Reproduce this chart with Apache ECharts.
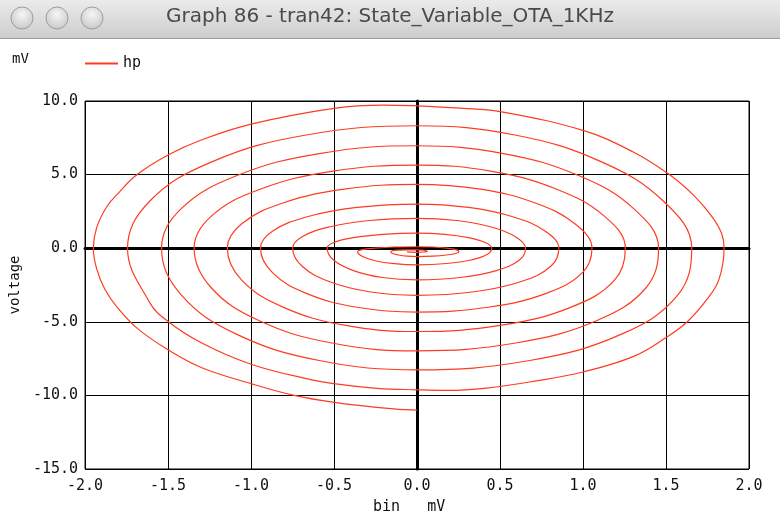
<!DOCTYPE html>
<html>
<head>
<meta charset="utf-8">
<script src="https://cdn.jsdelivr.net/npm/echarts@6/dist/echarts.min.js"></script>
<style>
  html, body { margin: 0; padding: 0; background: #ffffff; }
  #chart { width: 780px; height: 520px; }
</style>
</head>
<body>
<div id="chart"></div>
<script>
// ---- labels ----
const windowTitle = 'Graph 86 - tran42: State_Variable_OTA_1KHz';
const seriesName = 'hp';
const unitLabel = 'mV';
const xAxisTitle = 'bin   mV';
const yAxisTitle = 'voltage';

// ---- axis ranges ----
const xRange = [-2.0, 2.0, 0.5];   // min, max, step
const yRange = [-15.0, 10.0, 5.0];

// ---- trace: [bin (mV), hp (mV)], one array per turn of the spiral ----
const entry = [
  [0, -11.0], [-0.14, -10.92], [-0.5, -10.47], [-0.74, -10.0], [-1.0, -9.2],
  [-1.3, -8.1], [-1.5, -6.9], [-1.68, -5.5], [-1.80, -4.1], [-1.88, -2.8],
  [-1.93, -1.4], [-1.95, 0]
];
const turn1 = [
  [-1.93, 1.4], [-1.87, 2.8], [-1.80, 3.73], [-1.69, 4.97], [-1.50, 6.33],
  [-1.30, 7.35], [-1.0, 8.43], [-0.5, 9.5], [-0.2, 9.72], [0.28, 9.5],
  [0.5, 9.28], [1.0, 8.0], [1.30, 6.55], [1.52, 5.0], [1.67, 3.55],
  [1.78, 2.1], [1.835, 1.0], [1.85, 0],
  [1.818, -2.15], [1.745, -3.5], [1.63, -4.98], [1.505, -6.04], [1.305, -7.35],
  [1.0, -8.41], [0.70, -9.05], [0.42, -9.5], [0.18, -9.66], [0, -9.62],
  [-0.24, -9.52], [-0.5, -9.2], [-0.64, -8.93], [-1.0, -7.88], [-1.3, -6.42],
  [-1.5, -4.98], [-1.611, -3.68], [-1.744, 0]
];
const turn2 = [
  [-1.611, 3.19], [-1.233, 5.88], [-0.668, 7.69], [0, 8.32], [0.590, 7.69],
  [1.108, 5.88], [1.485, 3.19], [1.655, 0],
  [1.573, -3.16], [1.232, -5.84], [0.678, -7.63], [0, -8.26], [-0.589, -7.63],
  [-1.088, -5.84], [-1.422, -3.16], [-1.539, 0]
];
const turn3 = [
  [-1.422, 2.67], [-1.088, 4.92], [-0.589, 6.43], [0, 6.96], [0.520, 6.43],
  [0.977, 4.92], [1.307, 2.67], [1.455, 0],
  [1.381, -2.67], [1.081, -4.93], [0.594, -6.44], [0, -6.97], [-0.514, -6.44],
  [-0.950, -4.93], [-1.241, -2.67], [-1.343, 0]
];
const turn4 = [
  [-1.241, 2.16], [-0.950, 3.99], [-0.514, 5.22], [0, 5.65], [0.451, 5.22],
  [0.845, 3.99], [1.130, 2.16], [1.255, 0],
  [1.190, -2.17], [0.929, -4.00], [0.511, -5.23], [0, -5.66], [-0.438, -5.23],
  [-0.808, -4.00], [-1.056, -2.17], [-1.143, 0]
];
const turn5 = [
  [-1.056, 1.66], [-0.808, 3.07], [-0.438, 4.01], [0, 4.34], [0.381, 4.01],
  [0.712, 3.07], [0.951, 1.66], [1.054, 0],
  [0.997, -1.66], [0.778, -3.07], [0.427, -4.01], [0, -4.34], [-0.361, -4.01],
  [-0.667, -3.07], [-0.871, -1.66], [-0.943, 0]
];
const turn6 = [
  [-0.871, 1.15], [-0.667, 2.12], [-0.361, 2.77], [0, 3.0], [0.311, 2.77],
  [0.582, 2.12], [0.773, 1.15], [0.854, 0],
  [0.806, -1.23], [0.628, -2.26], [0.344, -2.96], [0, -3.2], [-0.287, -2.96],
  [-0.530, -2.26], [-0.692, -1.23], [-0.749, 0]
];
const turn7 = [
  [-0.692, 0.78], [-0.530, 1.44], [-0.287, 1.88], [0, 2.03], [0.239, 1.88],
  [0.447, 1.44], [0.593, 0.78], [0.654, 0],
  [0.615, -0.82], [0.478, -1.52], [0.261, -1.99], [0, -2.15], [-0.208, -1.99],
  [-0.383, -1.52], [-0.501, -0.82], [-0.542, 0]
];
const turn8 = [
  [-0.501, 0.39], [-0.383, 0.72], [-0.208, 0.94], [0, 1.02], [0.167, 0.94],
  [0.310, 0.72], [0.411, 0.39], [0.45, 0],
  [0.422, -0.43], [0.326, -0.80], [0.178, -1.04], [0, -1.13], [-0.137, -1.05],
  [-0.253, -0.85], [-0.331, -0.55], [-0.358, -0.23]
];
const turn9 = [
  [-0.331, -0.10], [-0.253, 0.0], [-0.137, 0.08], [0, 0.1], [0.096, 0.08],
  [0.178, 0.0], [0.233, -0.10], [0.252, -0.23],
  [0.233, -0.36], [0.178, -0.46], [0.096, -0.54], [0, -0.57], [-0.06, -0.54],
  [-0.112, -0.46], [-0.146, -0.36], [-0.158, -0.25]
];
const turn10 = [
  [-0.146, -0.17], [-0.11, -0.13], [-0.06, -0.11], [0, -0.11], [0.04, -0.14],
  [0.063, -0.2], [0.04, -0.26], [0, -0.28], [-0.04, -0.27], [-0.06, -0.23]
];

const trace = [].concat(entry, turn1, turn2, turn3, turn4, turn5,
                        turn6, turn7, turn8, turn9, turn10);

// ---- styling ----
const MONO = '"DejaVu Sans Mono", monospace';
const TRACE_COLOR = '#ff3b20';
const INK = '#000000';
const fmt = v => v.toFixed(1);

const chart = echarts.init(document.getElementById('chart'), null, { renderer: 'canvas' });

chart.setOption({
  animation: false,
  backgroundColor: '#ffffff',
  grid: {
    left: 83, top: 101, width: 666, height: 368,
    show: true, borderColor: INK, borderWidth: 1, backgroundColor: 'transparent'
  },
  legend: {
    data: [seriesName],
    left: 80, top: 51,
    icon: 'rect', itemWidth: 33, itemHeight: 2,
    textStyle: { fontFamily: MONO, fontSize: 15, color: '#111' }
  },
  xAxis: [
    {
      type: 'value', min: xRange[0], max: xRange[1], interval: xRange[2],
      position: 'bottom',
      axisLine: { show: false }, axisTick: { show: false },
      splitLine: { show: true, lineStyle: { color: INK, width: 1 } },
      axisLabel: { formatter: fmt, fontFamily: MONO, fontSize: 15, color: '#111', margin: 10 }
    },
    {
      type: 'value', min: xRange[0], max: xRange[1], interval: xRange[2],
      position: 'bottom',
      axisLine: { show: true, onZero: true, lineStyle: { color: INK, width: 3 } },
      axisTick: { show: false }, axisLabel: { show: false }, splitLine: { show: false }
    }
  ],
  yAxis: [
    {
      type: 'value', min: yRange[0], max: yRange[1], interval: yRange[2],
      position: 'left',
      axisLine: { show: false }, axisTick: { show: false },
      splitLine: { show: true, lineStyle: { color: INK, width: 1 } },
      axisLabel: { formatter: fmt, fontFamily: MONO, fontSize: 15, color: '#111', margin: 7 },
      name: yAxisTitle, nameLocation: 'middle', nameGap: 59, nameRotate: 90,
      nameTextStyle: { fontFamily: MONO, fontSize: 14, color: '#111' }
    },
    {
      type: 'value', min: yRange[0], max: yRange[1], interval: yRange[2],
      position: 'left',
      axisLine: { show: true, onZero: true, lineStyle: { color: INK, width: 3 } },
      axisTick: { show: false }, axisLabel: { show: false }, splitLine: { show: false }
    }
  ],
  series: [{
    name: seriesName,
    type: 'line',
    xAxisIndex: 0, yAxisIndex: 0,
    data: trace,
    showSymbol: false, symbol: 'none',
    smooth: 0.4,
    lineStyle: { color: TRACE_COLOR, width: 1.2 },
    itemStyle: { color: TRACE_COLOR },
    z: 5
  }],
  graphic: [
    // window title bar
    {
      type: 'rect', left: 0, top: 0, z: 0,
      shape: { width: 780, height: 38 },
      style: {
        fill: new echarts.graphic.LinearGradient(0, 0, 0, 1, [
          { offset: 0, color: '#ebebeb' }, { offset: 1, color: '#cdcdcd' }
        ])
      }
    },
    { type: 'line', z: 1, shape: { x1: 0, y1: 38.5, x2: 780, y2: 38.5 }, style: { stroke: '#9a9a9a', lineWidth: 1 } },
    ...[22, 57, 92].map(cx => ({
      type: 'circle', z: 1,
      shape: { cx: cx, cy: 18, r: 11 },
      style: {
        fill: new echarts.graphic.RadialGradient(0.5, 0.35, 0.7, [
          { offset: 0, color: '#f6f6f6' }, { offset: 1, color: '#c4c4c4' }
        ]),
        stroke: '#9c9c9c', lineWidth: 1
      }
    })),
    {
      type: 'text', z: 1, left: 'center', top: 7,
      style: { text: windowTitle, font: '20px "DejaVu Sans", sans-serif', fill: '#4a4a4a' }
    },
    // unit label and x axis title
    {
      type: 'text', z: 1, left: 12, top: 52,
      style: { text: unitLabel, font: '14px ' + MONO, fill: '#111' }
    },
    {
      type: 'text', z: 1, left: 373, top: 500,
      style: { text: xAxisTitle, font: '15px ' + MONO, fill: '#111' }
    }
  ]
});
</script>
</body>
</html>
